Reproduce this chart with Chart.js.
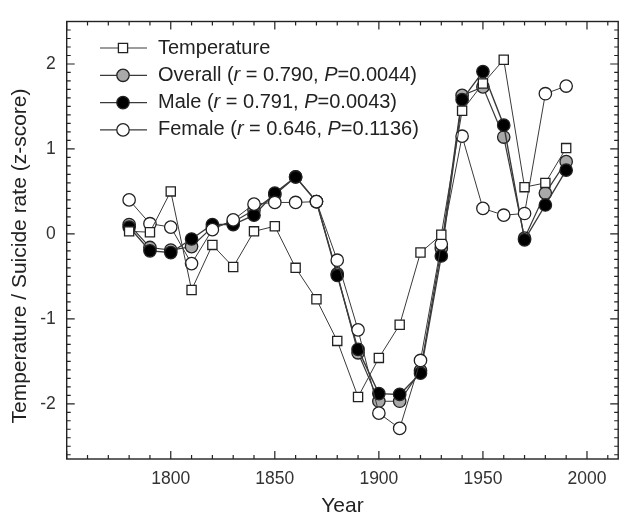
<!DOCTYPE html>
<html><head><meta charset="utf-8">
<script src="https://cdn.jsdelivr.net/npm/chart.js@4.4.1/dist/chart.umd.min.js"></script>
<style>html,body{margin:0;padding:0;background:#fff}#wrap{width:626px;height:519px}</style>
</head><body><div id="wrap"><canvas id="c" width="626" height="519"></canvas></div>
<script>
const years = [1780,1790,1800,1810,1820,1830,1840,1850,1860,1870,1880,1890,1900,1910,1920,1930,1940,1950,1960,1970,1980,1990];
const temperature = [0.03,0.02,0.50,-0.66,-0.13,-0.39,0.03,0.09,-0.40,-0.77,-1.26,-1.92,-1.46,-1.07,-0.22,-0.01,1.45,1.77,2.05,0.55,0.60,1.01];
const overall = [0.11,-0.16,-0.19,-0.15,0.08,0.14,0.28,0.46,0.67,0.38,-0.47,-1.40,-1.97,-1.97,-1.61,-0.17,1.63,1.73,1.14,-0.05,0.48,0.85];
const male = [0.08,-0.20,-0.22,-0.06,0.11,0.11,0.22,0.48,0.67,0.38,-0.49,-1.36,-1.88,-1.89,-1.64,-0.26,1.58,1.91,1.28,-0.07,0.34,0.75];
const female = [0.40,0.12,0.08,-0.35,0.05,0.165,0.35,0.37,0.37,0.38,-0.31,-1.13,-2.11,-2.29,-1.49,-0.12,1.15,0.30,0.22,0.24,1.65,1.74];
const seriesNames = ['Temperature','Overall','Male','Female'];
const rValues = [null,'0.790','0.791','0.646'];
const pValues = [null,'0.0044','0.0043','0.1136'];
const xTickValues = [1800,1850,1900,1950,2000];
const yTickValues = [-2,-1,0,1,2];
const xTitle = 'Year';
const yTitle = 'Temperature / Suicide rate (z-score)';

const FONT = '"Liberation Sans", Arial, Helvetica, sans-serif';
const toXY = arr => arr.map((v,i)=>({x:years[i], y:v}));

function ds(label, data, style, fill, radius, order, bw){
  return {label, data: toXY(data), pointStyle: style, backgroundColor: fill, pointBackgroundColor: fill,
    borderColor:'#3a3a3a', pointBorderColor:'#222', borderWidth: bw, pointBorderWidth:1.3,
    pointRadius: radius, pointHoverRadius: radius, tension:0, order};
}
const datasets = [
  ds(seriesNames[0], temperature, 'rect', '#ffffff', 6.5, 0, 1),
  ds(seriesNames[1], overall, 'circle', '#a9a9a9', 6.2, 3, 1.2),
  ds(seriesNames[2], male, 'circle', '#000000', 6.2, 2, 1.4),
  ds(seriesNames[3], female, 'circle', '#ffffff', 6.2, 1, 1),
];

const framePlugin = {
  id:'frame',
  beforeDatasetsDraw(chart){
    const {ctx, chartArea:a, scales:{x,y}} = chart;
    ctx.save();
    ctx.strokeStyle = '#222'; ctx.lineWidth = 1.4;
    ctx.strokeRect(a.left, a.top, a.right-a.left, a.bottom-a.top);
    ctx.lineWidth = 1.2;
    ctx.beginPath();
    for(let v=Math.ceil(x.min/10)*10; v<=x.max; v+=10){
      const px = x.getPixelForValue(v);
      const len = (v%50===0)?8:4;
      ctx.moveTo(px, a.bottom); ctx.lineTo(px, a.bottom-len);
      ctx.moveTo(px, a.top); ctx.lineTo(px, a.top+len);
    }
    for(let k=Math.ceil(y.min*10); k<=Math.floor(y.max*10); k++){
      const py = y.getPixelForValue(k/10);
      const len = (k%10===0)?8:4;
      ctx.moveTo(a.left, py); ctx.lineTo(a.left+len, py);
      ctx.moveTo(a.right, py); ctx.lineTo(a.right-len, py);
    }
    ctx.stroke();
    ctx.restore();
  },
  afterDraw(chart){
    const {ctx} = chart;
    ctx.save();
    ctx.fillStyle = '#222';
    ctx.font = '21px ' + FONT;
    ctx.textAlign = 'center'; ctx.textBaseline = 'middle';
    ctx.translate(20, 256); ctx.rotate(-Math.PI/2);
    ctx.fillText(yTitle, 0, 0);
    ctx.restore();
  }
};

const legendPlugin = {
  id:'customLegend',
  afterDraw(chart){
    const {ctx} = chart;
    const x0 = 100, x1 = 147, mx = 123, tx = 158, y0 = 48, dy = 27.3;
    chart.data.datasets.forEach((d,i)=>{
      const yy = y0 + i*dy;
      ctx.save();
      ctx.strokeStyle = '#3a3a3a'; ctx.lineWidth = 1.2;
      ctx.beginPath(); ctx.moveTo(x0, yy); ctx.lineTo(x1, yy); ctx.stroke();
      ctx.fillStyle = d.pointBackgroundColor; ctx.strokeStyle = d.pointBorderColor; ctx.lineWidth = 1.3;
      Chart.helpers.drawPoint(ctx, {pointStyle:d.pointStyle, rotation:0, radius:d.pointRadius, borderWidth:1.3}, mx, yy);
      ctx.fillStyle = '#222'; ctx.textBaseline = 'middle'; ctx.textAlign = 'left';
      const segs = rValues[i] === null ? [[d.label,false]] :
        [[d.label + ' (',false],['r',true],[' = ' + rValues[i] + ', ',false],['P',true],['=' + pValues[i] + ')',false]];
      let cx = tx;
      segs.forEach(([t,it])=>{
        ctx.font = (it?'italic ':'') + '20px ' + FONT;
        ctx.fillText(t, cx, yy);
        cx += ctx.measureText(t).width;
      });
      ctx.restore();
    });
  }
};

new Chart(document.getElementById('c'), {
  type:'line',
  data:{datasets},
  options:{
    responsive:false, animation:false,
    layout:{padding:{top:13, right:4, left:0, bottom:0}},
    plugins:{legend:{display:false}, tooltip:{enabled:false}},
    scales:{
      x:{type:'linear', min:1750, max:2015,
        afterBuildTicks: s => { s.ticks = xTickValues.map(v=>({value:v})); },
        afterFit: s => { s.height = 60; },
        grid:{display:false, drawTicks:false}, border:{display:false},
        ticks:{font:{size:17.5, family:FONT}, color:'#333', padding:10, maxRotation:0, callback: v => String(v)},
        title:{display:true, text:xTitle, font:{size:21, family:FONT}, color:'#222', padding:{top:0,bottom:0}}
      },
      y:{type:'linear', min:-2.65, max:2.5,
        afterBuildTicks: s => { s.ticks = yTickValues.map(v=>({value:v})); },
        afterFit: s => { s.width = 66.7; },
        grid:{display:false, drawTicks:false}, border:{display:false},
        ticks:{font:{size:17.5, family:FONT}, color:'#333', padding:11, callback: v => String(v)},
        title:{display:false}
      }
    }
  },
  plugins:[framePlugin, legendPlugin]
});
</script></body></html>
